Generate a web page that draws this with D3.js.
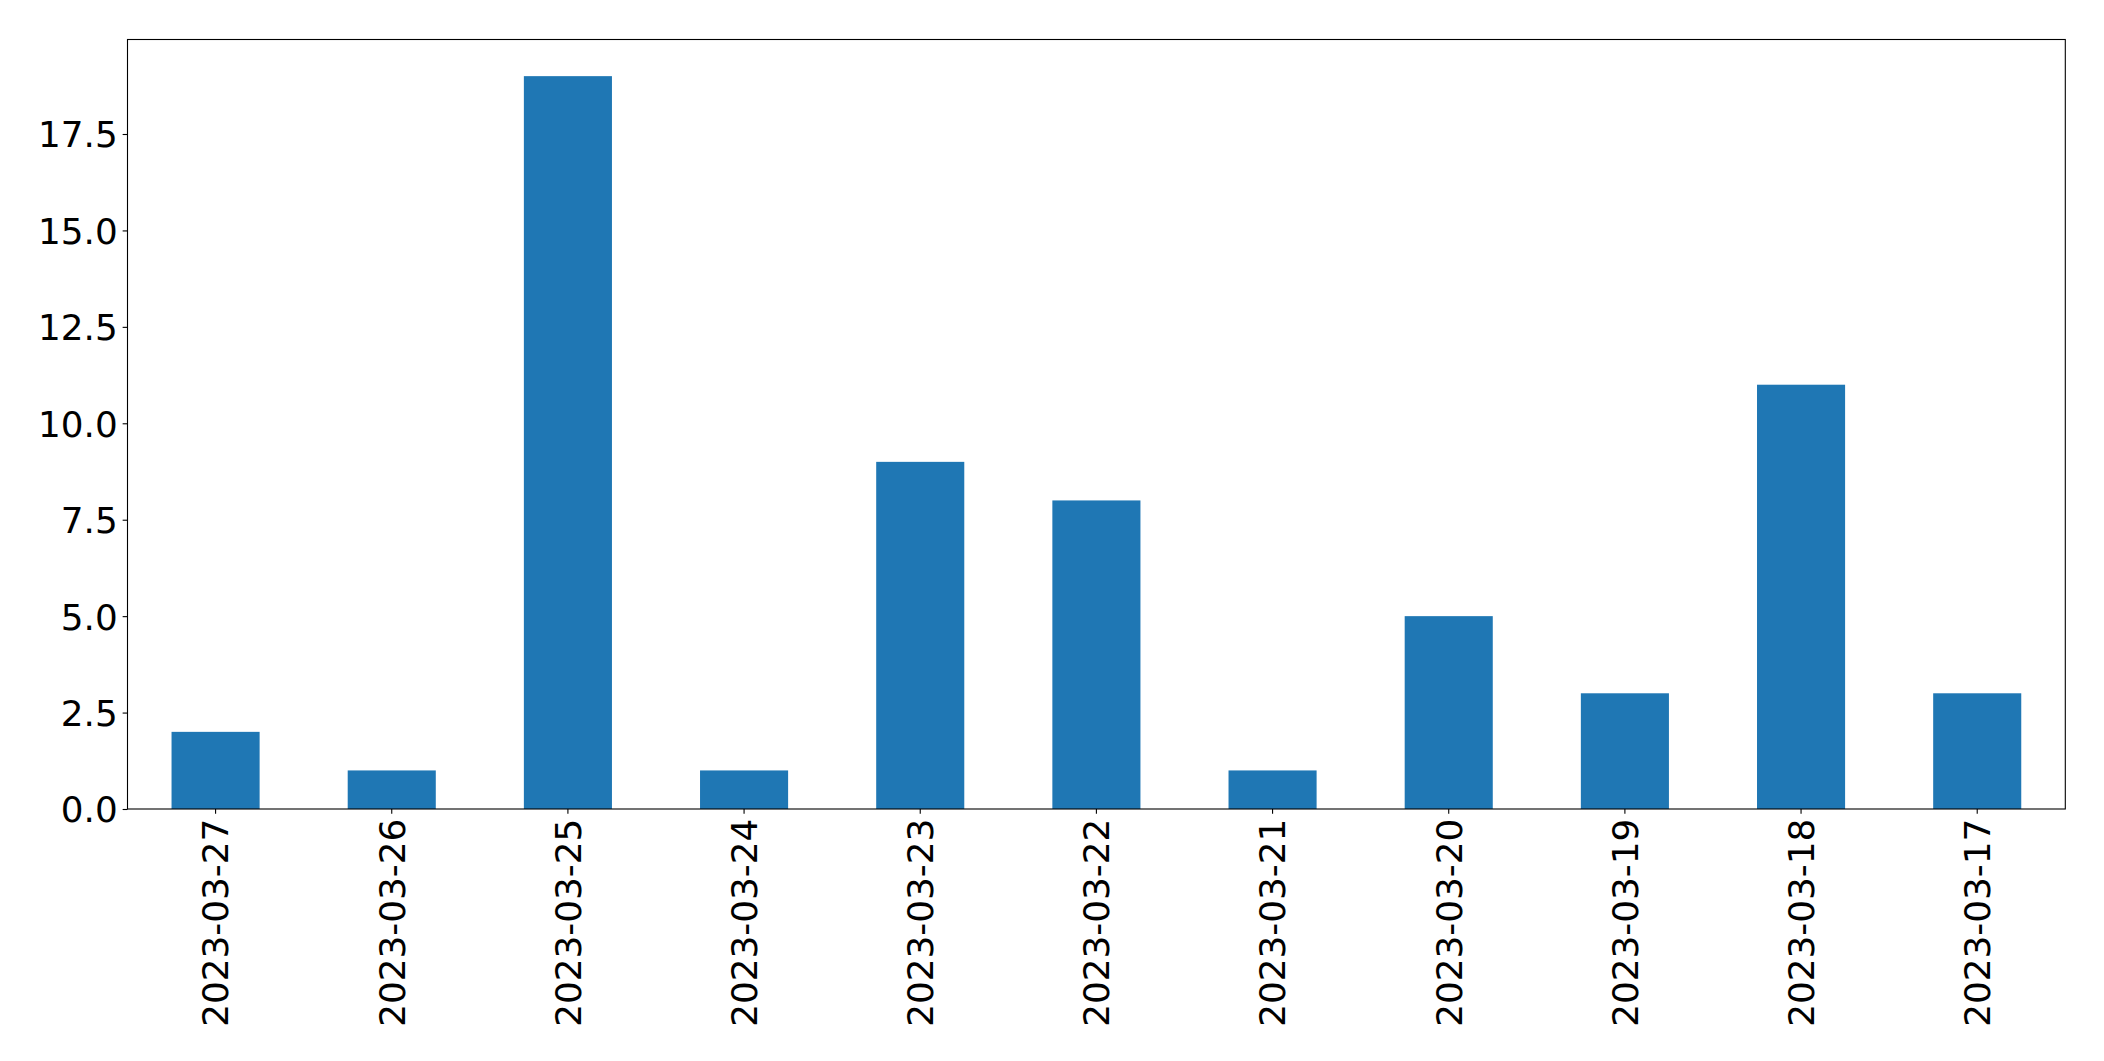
<!DOCTYPE html>
<html><head><meta charset="utf-8">
<script src="https://cdn.jsdelivr.net/npm/d3@7"></script>
<style>body{margin:0;background:#fff}svg{display:block}text{font-family:"DejaVu Sans",sans-serif}</style>
</head><body>
<script>
const categories = ["2023-03-27","2023-03-26","2023-03-25","2023-03-24","2023-03-23","2023-03-22","2023-03-21","2023-03-20","2023-03-19","2023-03-18","2023-03-17"];
const values = [2,1,19,1,9,8,1,5,3,11,3];
const yTicks = [0,2.5,5,7.5,10,12.5,15,17.5];

const W=2104,H=1061;
const L=127.5,R=2065.3,T=39.5,B=809;
const fs=35.8, tickLen=4.86, pad=4.86;
const svg=d3.select("body").append("svg").attr("width",W).attr("height",H);
const x=d3.scaleBand().domain(categories).range([L,R]).paddingInner(0.5).paddingOuter(0.25);
const y=d3.scaleLinear().domain([0,d3.max(values)*1.05]).range([B,T]);

svg.append("g").selectAll("rect").data(values).join("rect")
  .attr("x",(d,i)=>x(categories[i])).attr("width",x.bandwidth())
  .attr("y",d=>y(d)).attr("height",d=>B-y(d)).attr("fill","#1f77b4");

const ya=svg.append("g").attr("transform",`translate(${L},0)`)
  .call(d3.axisLeft(y).tickValues(yTicks).tickFormat(d3.format(".1f")).tickSize(tickLen).tickPadding(pad));
ya.select(".domain").remove();
ya.selectAll("line").attr("stroke","#000").attr("stroke-width",1.1);
ya.selectAll("text").attr("font-size",fs).attr("font-family","DejaVu Sans").attr("fill","#000").attr("dy","0.36em");

const xa=svg.append("g").attr("transform",`translate(0,${B})`)
  .call(d3.axisBottom(x).tickSize(tickLen).tickPadding(pad));
xa.select(".domain").remove();
xa.selectAll("line").attr("stroke","#000").attr("stroke-width",1.1);
xa.selectAll("text").attr("font-size",fs).attr("font-family","DejaVu Sans").attr("fill","#000")
  .attr("transform",`rotate(-90)`).attr("text-anchor","end")
  .attr("x",-(tickLen+pad)).attr("y",0).attr("dy","0.36em");

svg.append("rect").attr("x",L).attr("y",T).attr("width",R-L).attr("height",B-T)
  .attr("fill","none").attr("stroke","#000").attr("stroke-width",1.1);
</script>
</body></html>
